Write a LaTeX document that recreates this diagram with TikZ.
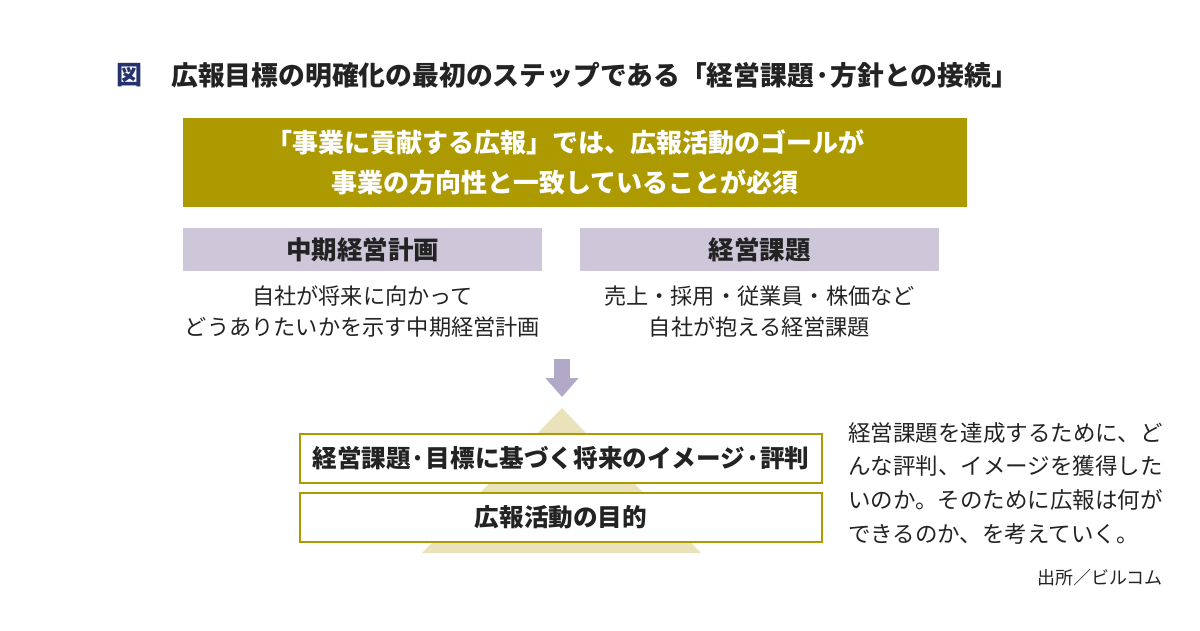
\documentclass[tikz,border=0pt]{standalone}
\usepackage{fontspec}
\setmainfont{Noto Sans CJK JP}
\usetikzlibrary{arrows.meta}

\definecolor{olivegold}{RGB}{172,154,0}
\definecolor{lavender}{RGB}{206,199,218}
\definecolor{arrowlav}{RGB}{178,168,200}
\definecolor{pyramid}{RGB}{233,226,186}
\definecolor{navy}{RGB}{38,50,110}
\definecolor{ink}{RGB}{35,35,35}

\newcommand{\fs}[2]{\fontsize{#1}{#2}\selectfont}

\begin{document}
\begin{tikzpicture}[x=1pt,y=-1pt,
	headbox/.style={fill=olivegold,minimum width=784pt,minimum height=89pt,inner sep=0pt},
	headtext/.style={text=white,align=center,font=\fs{26}{40}\bfseries,inner sep=0pt},
	lavbox/.style={fill=lavender,text=ink,minimum width=359pt,minimum height=43pt,font=\fs{25.5}{28}\bfseries,inner sep=0pt},
	desc/.style={text=ink,align=center,font=\fs{22.2}{31},inner sep=0pt},
	goalbox/.style={draw=olivegold,line width=2pt,fill=white,text=ink,minimum width=522pt,minimum height=49pt,font=\fs{24.6}{28}\bfseries,inner sep=0pt}]
	\useasboundingbox (0,0) rectangle (1200,630);

	% title
	\node[text=navy,font=\fs{26}{30}\bfseries,inner sep=0pt] (fig) at (129,75) {図};
	\node[text=ink,font=\fs{26.8}{30}\bfseries,inner sep=0pt,anchor=west] (title) at (171,75) {広報目標の明確化の最初のステップである「経営課題·方針との接続」};

	\node[headbox] (head) at (575,162.5) {};
	\node[headtext] (headline) at (565,162.5) {「事業に貢献する広報」では、広報活動のゴールが\\事業の方向性と一致していることが必須};

	\node[lavbox] (plan) at (362.5,249.5) {中期経営計画};
	\node[lavbox] (issue) at (759.5,249.5) {経営課題};
	\node[desc] (plantext) at (362.5,311.5) {自社が将来に向かって\\どうありたいかを示す中期経営計画};
	\node[desc] (issuetext) at (759.5,311.5) {売上・採用・従業員・株価など\\自社が抱える経営課題};

	% arrow and pyramid
	\coordinate (arrtop) at (562,359);
	\coordinate (arrtip) at (562,397);
	\draw[arrowlav,line width=16pt,-{Triangle[length=19pt,width=32pt]}] (arrtop) -- (arrtip);
	\fill[pyramid] (562,408) -- (422,553) -- (701,553) -- cycle;

	\node[goalbox] (image) at (561,458) {経営課題·目標に基づく将来のイメージ·評判};
	\node[goalbox] (goal) at (561,517) {広報活動の目的};

	\node[text=ink,font=\fs{22.5}{33.7},align=left,anchor=north west,inner sep=0pt] (note) at (848,422) {経営課題を達成するために、ど\\んな評判、イメージを獲得した\\いのか。そのために広報は何が\\できるのか、を考えていく。};
	\node[text=ink,font=\fs{18}{20},anchor=east,inner sep=0pt] (source) at (1163,578) {出所／ビルコム};
\end{tikzpicture}
\end{document}
